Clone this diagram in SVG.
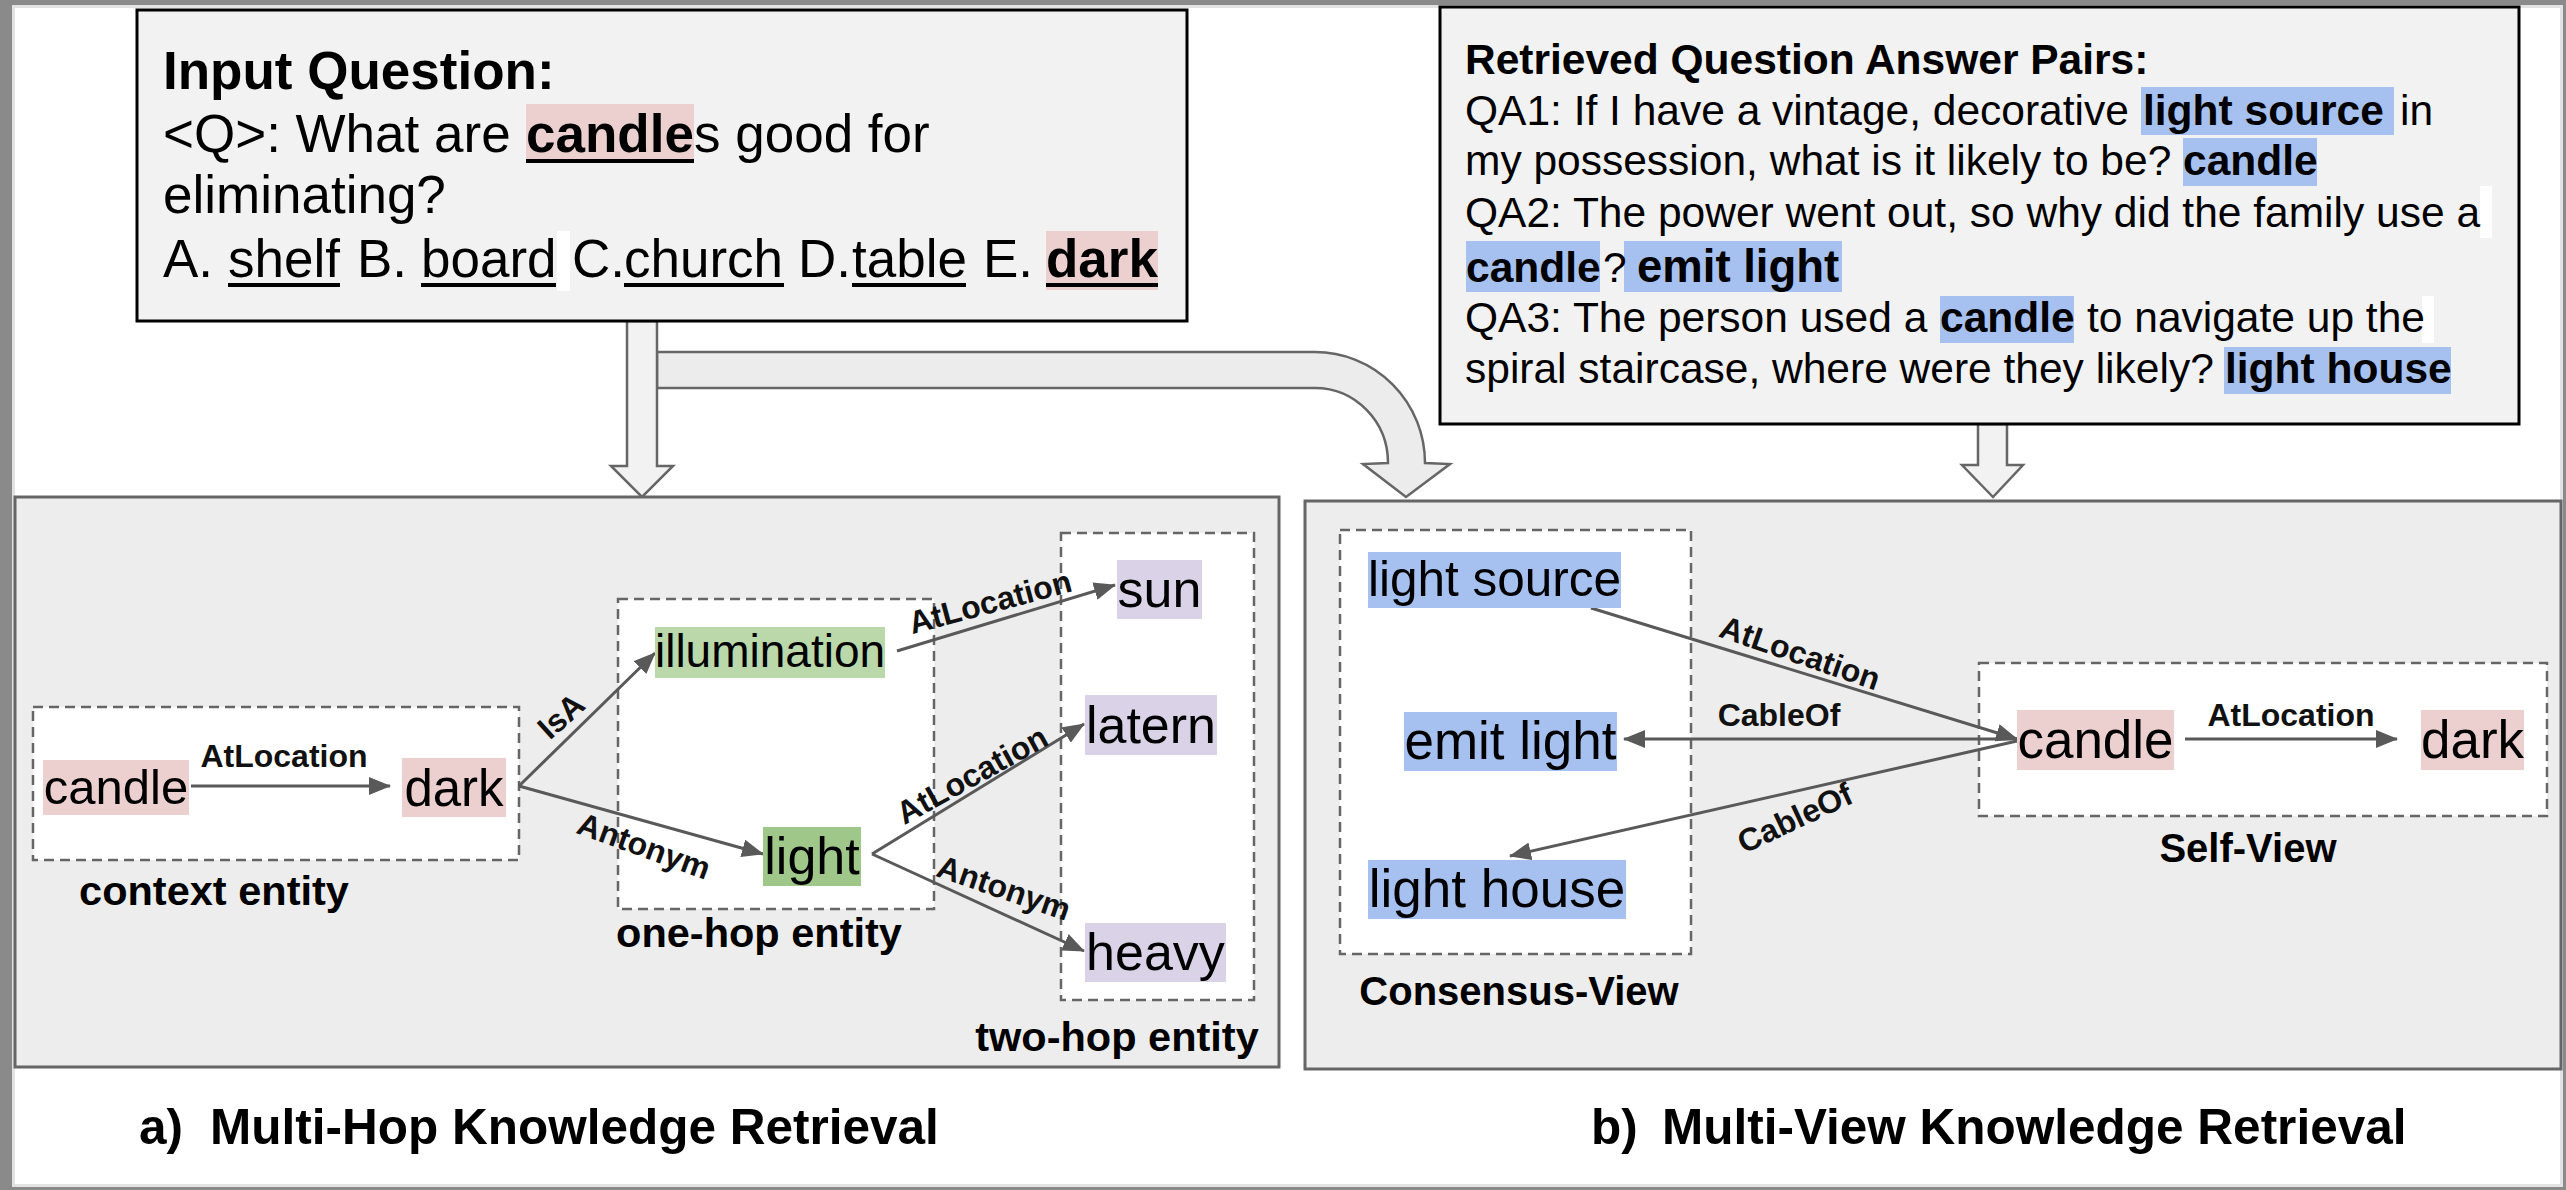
<svg xmlns="http://www.w3.org/2000/svg" width="2566" height="1190" viewBox="0 0 2566 1190">
<style>
text{font-family:"Liberation Sans",Arial,Helvetica,sans-serif;fill:#000}
.b{font-weight:bold}
.q{font-size:53px}
.qa{font-size:42.5px}
.node{text-anchor:middle}
.lbl{font-size:32px;font-weight:bold;text-anchor:middle;fill:#111}
.grp{font-size:41.5px;font-weight:bold;text-anchor:middle}
.grp2{font-size:40px;font-weight:bold;text-anchor:middle}
.cap{font-size:49.5px;font-weight:bold}
.panel{fill:#ededed;stroke:#666;stroke-width:3}
.dash{fill:#fff;stroke:#666;stroke-width:2.5;stroke-dasharray:10 6}
.edge{stroke:#595959;stroke-width:3;fill:none;marker-end:url(#ah)}
.box{fill:#f2f2f2;stroke:#000;stroke-width:3}
.blk{fill:#f2f2f2;stroke:#666;stroke-width:2.5;stroke-linejoin:miter}
.pink{fill:#ecd0d0}
.blue{fill:#a6c1f0}
.g1{fill:#bad8aa}
.g2{fill:#9fc78a}
.pur{fill:#dad3e8}
.ul{stroke:#000;stroke-width:4}
</style>
<defs>
<marker id="ah" markerUnits="userSpaceOnUse" markerWidth="22" markerHeight="18" refX="21" refY="9" orient="auto">
<path d="M0,0 L22,9 L0,18 z" fill="#595959"/>
</marker>
</defs>

<g id="frame">
<rect x="0" y="0" width="2566" height="1190" fill="#8a8a8a"/>
<rect x="13.5" y="6.5" width="2548" height="1179" fill="#fff" stroke="#e2e2e2" stroke-width="3"/>
</g>

<g id="block-arrows">
<path class="blk" style="fill:#ececec" d="M657,352 H1315 A110,111 0 0 1 1425,463 L1450,464 L1406,497 L1363,464 L1388,463 A73,75 0 0 0 1315,388 H657 Z"/>
<path class="blk" d="M627,321 V466 H611 L642,497 L673,466 H657 V321 Z"/>
<path class="blk" d="M1978,424 V465 H1962 L1993,497 L2023,465 H2007 V424 Z"/>
</g>

<g id="input-question">
<rect class="box" x="137" y="10" width="1050" height="311"/>
<rect class="pink" x="526" y="104" width="168" height="59"/>
<rect class="pink" x="1046" y="231" width="112" height="59"/>
<rect x="557" y="231" width="13" height="60" fill="#fff"/>
<text class="q b" x="163" y="89">Input Question:</text>
<text class="q" x="163" y="152">&lt;Q&gt;: What are</text>
<text class="q b" x="526" y="152">candle</text>
<text class="q" x="694" y="152">s good for</text>
<text class="q" x="163" y="213">eliminating?</text>
<text class="q" x="163" y="277">A.</text>
<text class="q" x="228" y="277">shelf</text>
<text class="q" x="357" y="277">B.</text>
<text class="q" x="421" y="277">board</text>
<text class="q" x="572" y="277">C.</text>
<text class="q" x="624" y="277">church</text>
<text class="q" x="798" y="277">D.</text>
<text class="q" x="852" y="277">table</text>
<text class="q" x="983" y="277">E.</text>
<text class="q b" x="1046" y="277">dark</text>
<line class="ul" x1="526" y1="161" x2="694" y2="161"/>
<line class="ul" x1="228" y1="285" x2="340" y2="285"/>
<line class="ul" x1="421" y1="285" x2="556" y2="285"/>
<line class="ul" x1="624" y1="285" x2="784" y2="285"/>
<line class="ul" x1="852" y1="285" x2="966" y2="285"/>
<line class="ul" x1="1046" y1="285" x2="1158" y2="285"/>
</g>

<g id="qa-pairs">
<rect class="box" x="1440" y="7" width="1079" height="417"/>
<rect class="blue" x="2141" y="87" width="253" height="48"/>
<rect class="blue" x="2183" y="138" width="134" height="48"/>
<rect class="blue" x="1466" y="241" width="134" height="51"/>
<rect class="blue" x="1624" y="241" width="218" height="51"/>
<rect class="blue" x="1940" y="296" width="134" height="47"/>
<rect class="blue" x="2224" y="347" width="227" height="47"/>
<rect x="2480" y="186" width="12" height="52" fill="#fff"/>
<rect x="2422" y="296" width="12" height="47" fill="#fff"/>
<text class="qa b" x="1465" y="74" style="font-size:42.5px">Retrieved Question Answer Pairs:</text>
<text class="qa" x="1465" y="125">QA1: If I have a vintage, decorative</text>
<text class="qa b" x="2143" y="125">light source</text>
<text class="qa" x="2400" y="125">in</text>
<text class="qa" x="1465" y="175">my possession, what is it likely to be?</text>
<text class="qa b" x="2183" y="175">candle</text>
<text class="qa" x="1465" y="227">QA2: The power went out, so why did the family use a</text>
<text class="qa b" x="1466" y="282">candle</text>
<text class="qa" x="1603" y="282">?</text>
<text class="qa b" x="1637" y="282" style="font-size:45.5px">emit light</text>
<text class="qa" x="1465" y="332">QA3: The person used a</text>
<text class="qa b" x="1940" y="332">candle</text>
<text class="qa" x="2087" y="332">to navigate up the</text>
<text class="qa" x="1465" y="383">spiral staircase, where were they likely?</text>
<text class="qa b" x="2225" y="383">light house</text>
</g>

<g id="panel-a">
<rect class="panel" x="15" y="497" width="1264" height="570"/>
<g id="context-entity">
<rect class="dash" x="33" y="707" width="486" height="153"/>
<text class="grp" x="214" y="905">context entity</text>
</g>
<g id="one-hop-entity">
<rect class="dash" x="618" y="599" width="316" height="310"/>
<text class="grp" x="759" y="947">one-hop entity</text>
</g>
<g id="two-hop-entity">
<rect class="dash" x="1061" y="533" width="193" height="467"/>
<text class="grp" x="1117" y="1051">two-hop entity</text>
</g>
</g>

<g id="panel-b">
<rect class="panel" x="1305" y="501" width="1256" height="568"/>
<g id="consensus-view">
<rect class="dash" x="1340" y="530" width="351" height="424"/>
<text class="grp2" x="1519" y="1005">Consensus-View</text>
</g>
<g id="self-view">
<rect class="dash" x="1979" y="663" width="568" height="153"/>
<text class="grp2" x="2248" y="862">Self-View</text>
</g>
</g>

<g id="connectors">
<line class="edge" x1="191" y1="786" x2="390" y2="786"/>
<line class="edge" x1="519" y1="786" x2="655" y2="653"/>
<line class="edge" x1="519" y1="786" x2="763" y2="854"/>
<line class="edge" x1="897" y1="651" x2="1115" y2="585"/>
<line class="edge" x1="872" y1="854" x2="1084" y2="724"/>
<line class="edge" x1="872" y1="854" x2="1084" y2="951"/>
<line class="edge" x1="1591" y1="608" x2="2017" y2="739"/>
<line class="edge" x1="2017" y1="739" x2="1624" y2="739"/>
<line class="edge" x1="2017" y1="741" x2="1510" y2="856"/>
<line class="edge" x1="2185" y1="739" x2="2397" y2="739"/>
<text class="lbl" x="284" y="767">AtLocation</text>
<text class="lbl" transform="translate(561,716) rotate(-42)" y="11">IsA</text>
<text class="lbl" transform="translate(644,846) rotate(20)" y="11">Antonym</text>
<text class="lbl" transform="translate(990,602) rotate(-15)" y="11">AtLocation</text>
<text class="lbl" transform="translate(972,775) rotate(-29)" y="11">AtLocation</text>
<text class="lbl" transform="translate(1004,888) rotate(19)" y="11">Antonym</text>
<text class="lbl" transform="translate(1800,653) rotate(19)" y="11">AtLocation</text>
<text class="lbl" x="1779" y="726">CableOf</text>
<text class="lbl" transform="translate(1795,818) rotate(-25)" y="11">CableOf</text>
<text class="lbl" x="2291" y="726">AtLocation</text>
</g>

<g id="node-candle-a"><rect class="pink" x="43" y="760" width="146" height="55"/><text class="node" x="116" y="804" style="font-size:49px">candle</text></g>
<g id="node-dark-a"><rect class="pink" x="402" y="758" width="104" height="59"/><text class="node" x="454" y="806" style="font-size:51px">dark</text></g>
<g id="node-illumination"><rect class="g1" x="655" y="627" width="230" height="51"/><text class="node" x="770" y="667" style="font-size:46px">illumination</text></g>
<g id="node-light"><rect class="g2" x="763" y="827" width="98" height="59"/><text class="node" x="812" y="874" style="font-size:52px">light</text></g>
<g id="node-sun"><rect class="pur" x="1117" y="560" width="85" height="59"/><text class="node" x="1159.5" y="607" style="font-size:52px">sun</text></g>
<g id="node-latern"><rect class="pur" x="1085" y="695" width="132" height="60"/><text class="node" x="1151" y="743" style="font-size:52px">latern</text></g>
<g id="node-heavy"><rect class="pur" x="1085" y="923" width="141" height="59"/><text class="node" x="1155.5" y="970" style="font-size:52px">heavy</text></g>
<g id="node-light-source"><rect class="blue" x="1368" y="552" width="253" height="56"/><text class="node" x="1494.5" y="596" style="font-size:49.5px">light source</text></g>
<g id="node-emit-light"><rect class="blue" x="1404" y="712" width="213" height="59"/><text class="node" x="1510.5" y="759" style="font-size:53px">emit light</text></g>
<g id="node-light-house"><rect class="blue" x="1368" y="860" width="258" height="59"/><text class="node" x="1497" y="907" style="font-size:53px">light house</text></g>
<g id="node-candle-b"><rect class="pink" x="2017" y="710" width="157" height="60"/><text class="node" x="2095.5" y="758" style="font-size:53px">candle</text></g>
<g id="node-dark-b"><rect class="pink" x="2421" y="710" width="103" height="60"/><text class="node" x="2472.5" y="758" style="font-size:53px">dark</text></g>

<g id="captions">
<text class="cap" x="139" y="1144">a)<tspan x="210">Multi-Hop Knowledge Retrieval</tspan></text>
<text class="cap" x="1591" y="1144">b)<tspan x="1662">Multi-View Knowledge Retrieval</tspan></text>
</g>
</svg>
